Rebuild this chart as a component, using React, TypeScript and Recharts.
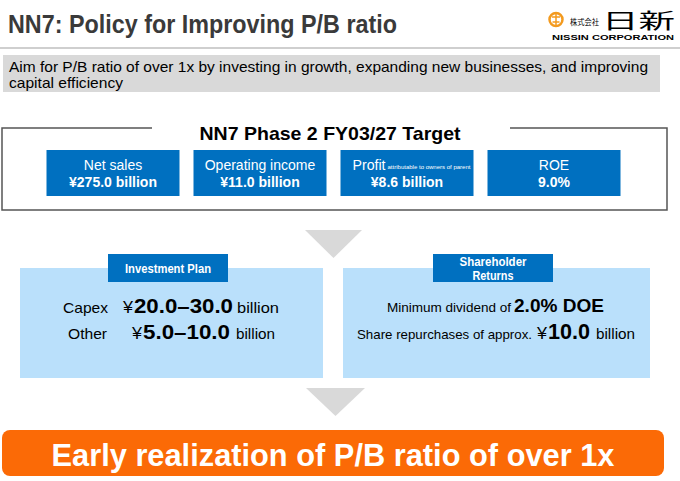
import { ComposedChart, Bar, XAxis, YAxis, Customized, Rectangle } from "recharts";

const FONT = "'Liberation Sans', Arial, sans-serif";
const BLUE = "#0070c0";
const LIGHT = "#bae0fb";
const GRAY = "#d9d9d9";
const ORANGE = "#fb6a06";

// KPI targets shown in the blue cards
const kpiNames = ["Net sales", "Operating income", "Profit", "ROE"];
const kpiNotes = ["", "", "attributable to owners of parent", ""];
const kpiValues = ["¥275.0 billion", "¥11.0 billion", "¥8.6 billion", "9.0%"];

// investment plan / shareholder returns
const planItems = ["Capex", "Other"];
const planRanges = ["20.0–30.0", "5.0–10.0"];
const dividendDoe = "2.0% DOE";
const buybackAmount = "10.0";

const title = "NN7: Policy for Improving P/B ratio";
const subtitle = [
  "Aim for P/B ratio of over 1x by investing in growth, expanding new businesses, and improving",
  "capital efficiency",
];
const targetTitle = "NN7 Phase 2 FY03/27 Target";
const conclusion = "Early realization of P/B ratio of over 1x";

const kpiData = kpiNames.map((name, i) => ({
  name,
  note: kpiNotes[i],
  value: kpiValues[i],
  card: 1,
}));

type TProps = {
  x: number;
  y: number;
  size: number;
  len?: number;
  bold?: boolean;
  fill?: string;
  anchor?: "start" | "middle" | "end";
  family?: string;
  children: string;
};

const T = ({ x, y, size, len, bold, fill = "#000", anchor = "start", family = FONT, children }: TProps) => (
  <text
    x={x}
    y={y}
    fontSize={size}
    fontFamily={family}
    fontWeight={bold ? 700 : 400}
    fill={fill}
    textAnchor={anchor}
    textLength={len}
    lengthAdjust={len ? "spacingAndGlyphs" : undefined}
  >
    {children}
  </text>
);

const renderCard = (props: any) => {
  const { x, y, width, height, payload } = props;
  const cx = x + width / 2;
  return (
    <g>
      <Rectangle x={x} y={y} width={width} height={height} fill={BLUE} />
      {payload.note ? (
        <>
          <T x={x + 12} y={y + 20} size={14} fill="#fff" len={33}>
            {payload.name}
          </T>
          <T x={x + 47} y={y + 19} size={5} fill="#fff" len={83}>
            {payload.note}
          </T>
        </>
      ) : (
        <T x={cx} y={y + 20} size={14} fill="#fff" anchor="middle">
          {payload.name}
        </T>
      )}
      <T x={cx} y={y + 37} size={14} bold fill="#fff" anchor="middle">
        {payload.value}
      </T>
    </g>
  );
};

const Slide = () => (
  <g>
    {/* header */}
    <T x={8} y={33} size={25} bold fill="#3a3a3a" len={389}>
      {title}
    </T>
    <rect x={0} y={47} width={680} height={2} fill="#cfcfcf" />
    {/* logo */}
    <circle cx={556} cy={19.5} r={6.5} fill="#fff" stroke="#f39a1e" strokeWidth={2.5} />
    <path d="M552 17 h8 M556 14 v11 M552.5 22 h7" stroke="#f39a1e" strokeWidth={1.5} />
    <T x={570} y={24.5} size={8} family="'Noto Sans CJK JP'" len={29}>
      株式会社
    </T>
    <T x={602} y={28} size={21} family="'Noto Sans CJK JP'" len={73}>
      日新
    </T>
    <T x={552} y={40} size={8} bold len={122}>
      NISSIN CORPORATION
    </T>
    {/* subtitle band */}
    <rect x={3} y={55} width={657} height={37} fill={GRAY} />
    <T x={9} y={72} size={15} len={639}>
      {subtitle[0]}
    </T>
    <T x={9} y={88} size={15} len={114}>
      {subtitle[1]}
    </T>
    {/* target frame */}
    <path d="M152 128 H2 V210 H667 V128 H510" fill="none" stroke="#555" strokeWidth={1.5} />
    <T x={330} y={140} size={19} bold anchor="middle" len={261}>
      {targetTitle}
    </T>
    {/* arrows */}
    <polygon points="305,230 362,230 333.5,258" fill={GRAY} />
    <polygon points="306,388 365,388 335.5,416" fill={GRAY} />
    {/* investment plan */}
    <rect x={20} y={268} width={303} height={110} fill={LIGHT} />
    <rect x={108} y={254} width={120} height={28} fill={BLUE} />
    <T x={168} y={273} size={12} bold fill="#fff" anchor="middle" len={86}>
      Investment Plan
    </T>
    <T x={63} y={313} size={15} len={45}>
      {planItems[0]}
    </T>
    <T x={123} y={313} size={16} len={10}>
      ¥
    </T>
    <T x={134} y={313} size={21} bold len={99}>
      {planRanges[0]}
    </T>
    <T x={237} y={313} size={15} len={42}>
      billion
    </T>
    <T x={68} y={339} size={15} len={39}>
      {planItems[1]}
    </T>
    <T x={132} y={339} size={16} len={10}>
      ¥
    </T>
    <T x={143} y={339} size={21} bold len={87}>
      {planRanges[1]}
    </T>
    <T x={236} y={339} size={15} len={39}>
      billion
    </T>
    {/* shareholder returns */}
    <rect x={343} y={268} width={307} height={110} fill={LIGHT} />
    <rect x={433} y={254} width={120} height={28} fill={BLUE} />
    <T x={493} y={266} size={12} bold fill="#fff" anchor="middle" len={67}>
      Shareholder
    </T>
    <T x={493} y={280} size={12} bold fill="#fff" anchor="middle" len={41}>
      Returns
    </T>
    <T x={387} y={312} size={13.5} len={124}>
      Minimum dividend of
    </T>
    <T x={514} y={312} size={19} bold len={90}>
      {dividendDoe}
    </T>
    <T x={357} y={339} size={13.3} len={175}>
      Share repurchases of approx.
    </T>
    <T x={537} y={339} size={16} len={10}>
      ¥
    </T>
    <T x={548} y={339} size={22} bold len={42}>
      {buybackAmount}
    </T>
    <T x={596} y={339} size={15} len={39}>
      billion
    </T>
    {/* conclusion */}
    <rect x={2} y={430} width={662} height={46} rx={8} fill={ORANGE} />
    <T x={333} y={466} size={32} bold fill="#fff" anchor="middle" len={563}>
      {conclusion}
    </T>
  </g>
);

export default function App() {
  return (
    <div style={{ position: "absolute", left: 0, top: 0, background: "#fff" }}>
      <ComposedChart
        width={680}
        height={481}
        data={kpiData}
        margin={{ top: 150, right: 52.5, bottom: 285, left: 39.5 }}
      >
        <XAxis dataKey="name" type="category" hide />
        <YAxis type="number" domain={[0, 1]} hide />
        <Customized component={Slide} />
        <Bar dataKey="card" barSize={133} shape={renderCard} isAnimationActive={false} />
      </ComposedChart>
    </div>
  );
}
